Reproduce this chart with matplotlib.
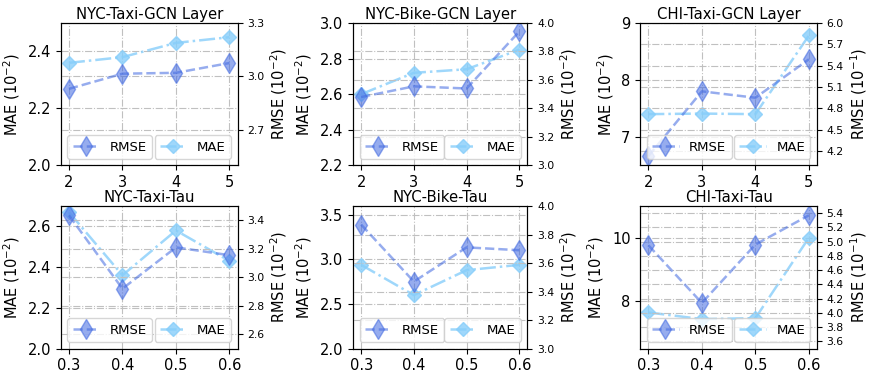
import matplotlib
matplotlib.use('Agg')
import matplotlib.pyplot as plt
from matplotlib.ticker import FormatStrFormatter

# x values
layers = [2, 3, 4, 5]
taus = [0.3, 0.4, 0.5, 0.6]

titles = ['NYC-Taxi-GCN Layer', 'NYC-Bike-GCN Layer', 'CHI-Taxi-GCN Layer',
          'NYC-Taxi-Tau', 'NYC-Bike-Tau', 'CHI-Taxi-Tau']

# MAE (left axis) and RMSE (right axis) per panel
mae_taxi_layer = [2.36, 2.38, 2.43, 2.45]
rmse_taxi_layer = [2.93, 3.015, 3.02, 3.075]
mae_bike_layer = [2.60, 2.72, 2.74, 2.85]
rmse_bike_layer = [3.48, 3.555, 3.54, 3.94]
mae_chi_layer = [7.40, 7.41, 7.40, 8.78]
rmse_chi_layer = [4.13, 5.04, 4.95, 5.49]
mae_taxi_tau = [2.67, 2.36, 2.58, 2.43]
rmse_taxi_tau = [3.435, 2.92, 3.21, 3.155]
mae_bike_tau = [2.94, 2.60, 2.88, 2.94]
rmse_bike_tau = [3.87, 3.47, 3.71, 3.69]
mae_chi_tau = [7.64, 7.43, 7.46, 10.0]
rmse_chi_tau = [4.95, 4.14, 4.96, 5.37]

mae_all = [mae_taxi_layer, mae_bike_layer, mae_chi_layer,
           mae_taxi_tau, mae_bike_tau, mae_chi_tau]
rmse_all = [rmse_taxi_layer, rmse_bike_layer, rmse_chi_layer,
            rmse_taxi_tau, rmse_bike_tau, rmse_chi_tau]

# axis limits / ticks
left_lims = [(2.0, 2.5), (2.2, 3.0), (6.5, 9.0), (2.0, 2.7), (2.0, 3.6), (6.5, 11.0)]
left_ticks = [[2.0, 2.2, 2.4], [2.2, 2.4, 2.6, 2.8, 3.0], [7, 8, 9],
              [2.0, 2.2, 2.4, 2.6], [2.0, 2.5, 3.0, 3.5], [8, 10]]
right_lims = [(2.5, 3.3), (3.0, 4.0), (4.0, 6.0), (2.5, 3.5), (3.0, 4.0), (3.5, 5.5)]
right_ticks = [[2.7, 3.0, 3.3], [3.0, 3.2, 3.4, 3.6, 3.8, 4.0],
               [4.2, 4.5, 4.8, 5.1, 5.4, 5.7, 6.0],
               [2.6, 2.8, 3.0, 3.2, 3.4], [3.0, 3.2, 3.4, 3.6, 3.8, 4.0],
               [3.6, 3.8, 4.0, 4.2, 4.4, 4.6, 4.8, 5.0, 5.2, 5.4]]
left_fmt = ['%.1f', '%.1f', '%d', '%.1f', '%.1f', '%d']
right_units = ['$(10^{-2})$', '$(10^{-2})$', '$(10^{-1})$',
               '$(10^{-2})$', '$(10^{-2})$', '$(10^{-1})$']

fig = plt.figure(figsize=(8.7, 3.76), dpi=100)

lefts = [0.070, 0.406, 0.736]
widths = [0.203, 0.200, 0.203]
bottoms = [0.560, 0.073]
h = 0.379

for i in range(6):
    r, c = divmod(i, 3)
    ax = fig.add_axes([lefts[c], bottoms[r], widths[c], h])
    ax2 = ax.twinx()
    x = layers if r == 0 else taus

    l1, = ax.plot(x, mae_all[i], color='lightskyblue', alpha=0.8, linestyle='-.',
                  marker='D', markersize=7, linewidth=1.8, label='MAE')
    l2, = ax2.plot(x, rmse_all[i], color='royalblue', alpha=0.55, linestyle='--',
                   marker='d', markersize=10, linewidth=1.8, label='RMSE')

    ax.set_ylim(*left_lims[i])
    ax.set_yticks(left_ticks[i])
    ax.yaxis.set_major_formatter(FormatStrFormatter(left_fmt[i]))
    ax2.set_ylim(*right_lims[i])
    ax2.set_yticks(right_ticks[i])
    ax2.yaxis.set_major_formatter(FormatStrFormatter('%.1f'))

    ax.set_xticks(x)
    ax.tick_params(axis='both', labelsize=10.5)
    ax2.tick_params(axis='y', labelsize=7.8)
    ax.set_ylabel('MAE $(10^{-2})$', fontsize=10.5)
    ax2.set_ylabel('RMSE ' + right_units[i], fontsize=10.5, labelpad=3)
    ax.set_title(titles[i], fontsize=10.7, pad=3)

    ax.grid(True, linestyle='-.', color='silver', linewidth=0.8)
    ax2.grid(True, axis='y', linestyle='-.', color='silver', linewidth=0.8)

    ax2.legend(handles=[l2], loc='lower left', fontsize=9.5, handlelength=2.0,
               borderaxespad=0.5)
    ax2.add_artist(ax2.get_legend())
    ax2.legend(handles=[l1], loc='lower right', fontsize=9.5, handlelength=2.0,
               borderaxespad=0.5)

plt.savefig('out.png', dpi=100)
